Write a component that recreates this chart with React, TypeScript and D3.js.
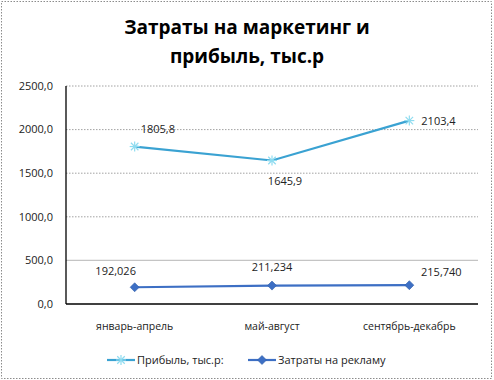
import React from "react";
import * as d3 from "d3";

const categories = ["январь-апрель", "май-август", "сентябрь-декабрь"];
const profit = [1805.8, 1645.9, 2103.4];
const profitLabels = ["1805,8", "1645,9", "2103,4"];
const ads = [192.026, 211.234, 215.74];
const adsLabels = ["192,026", "211,234", "215,740"];
const yTicks = [0, 500, 1000, 1500, 2000, 2500];
const titleLines = ["Затраты на маркетинг и", "прибыль, тыс.р"];
const legendNames = ["Прибыль, тыс.р:", "Затраты на рекламу"];

const W = 494, H = 380;
const FONT = "'Open Sans', 'Noto Sans', sans-serif";
const C_PROFIT = "#3aa2d2";
const C_PROFIT_MK = "#8fdcf0";
const C_ADS = "#3d6fc4";

function Star({ x, y, color }: { x: number; y: number; color: string }) {
  const r = 5;
  return (
    <g stroke={color} strokeWidth={1.2}>
      <line x1={x - r} y1={y} x2={x + r} y2={y} />
      <line x1={x} y1={y - r} x2={x} y2={y + r} />
      <line x1={x - r * 0.75} y1={y - r * 0.75} x2={x + r * 0.75} y2={y + r * 0.75} />
      <line x1={x - r * 0.75} y1={y + r * 0.75} x2={x + r * 0.75} y2={y - r * 0.75} />
    </g>
  );
}

function Diamond({ x, y, color }: { x: number; y: number; color: string }) {
  const r = 4.5;
  return (
    <path d={`M${x},${y - r}L${x + r},${y}L${x},${y + r}L${x - r},${y}Z`} fill={color} stroke="#2f5ea8" strokeWidth={0.6} />
  );
}

export default function App() {
  const x0 = 66, x1 = 478, yTop = 86, yBot = 304;
  const x = d3.scaleBand<string>().domain(categories).range([x0, x1]);
  const cx = (c: string) => (x(c) as number) + x.bandwidth() / 2;
  const y = d3.scaleLinear().domain([0, 2500]).range([yBot, yTop]);
  const line = d3.line<number>().x((_, i) => cx(categories[i])).y((d) => y(d));

  const profitOff = [[6, -17], [13, 21], [12, 1]];
  const adsOff = [[-19, -16], [0, -18], [32, -13]];

  return (
    <svg width={W} height={H} style={{ position: "absolute", left: 0, top: 0 }} fontFamily={FONT}>
      <rect x={0} y={0} width={W} height={H} fill="#fff" />
      <rect x={1.5} y={1.5} width={490} height={377} fill="none" stroke="#8c8c8c" strokeDasharray="1.5,1.5" />
      {titleLines.map((t, i) => (
        <text key={i} x={247} y={34 + i * 29} textAnchor="middle" fontSize={19} fontWeight="bold" fill="#000">
          {t}
        </text>
      ))}
      {yTicks.map((t) => (
        <g key={t}>
          {t > 0 && (
            <line x1={x0} x2={x1} y1={y(t)} y2={y(t)} stroke={t === 500 ? "#c4c4c4" : "#8a8a8a"} strokeWidth={t === 500 ? 1.3 : 0.8} strokeDasharray={t === 500 ? undefined : "1.5,1.5"} />
          )}
          <text x={53} y={y(t)} dy="0.35em" textAnchor="end" fontSize={11} fill="#222">
            {d3.format(".1f")(t).replace(".", ",")}
          </text>
        </g>
      ))}
      <line x1={x0} x2={x0} y1={yTop} y2={yBot} stroke="#000" strokeWidth={1.3} />
      <line x1={x0} x2={x1} y1={yBot} y2={yBot} stroke="#000" strokeWidth={1.3} />
      {categories.map((c) => (
        <text key={c} x={cx(c)} y={326} dy="0.35em" textAnchor="middle" fontSize={10.5} fill="#222">
          {c}
        </text>
      ))}
      <path d={line(profit) || ""} fill="none" stroke={C_PROFIT} strokeWidth={2.2} />
      <path d={line(ads) || ""} fill="none" stroke={C_ADS} strokeWidth={2.2} />
      {profit.map((v, i) => (
        <g key={i}>
          <Star x={cx(categories[i])} y={y(v)} color={C_PROFIT_MK} />
          <text x={cx(categories[i]) + profitOff[i][0]} y={y(v) + profitOff[i][1]} dy="0.35em" textAnchor={i === 1 ? "middle" : "start"} fontSize={11} fill="#222">
            {profitLabels[i]}
          </text>
        </g>
      ))}
      {ads.map((v, i) => (
        <g key={i}>
          <Diamond x={cx(categories[i])} y={y(v)} color={C_ADS} />
          <text x={cx(categories[i]) + adsOff[i][0]} y={y(v) + adsOff[i][1]} dy="0.35em" textAnchor="middle" fontSize={11} fill="#222">
            {adsLabels[i]}
          </text>
        </g>
      ))}
      <g>
        <line x1={107} x2={135} y1={360} y2={360} stroke={C_PROFIT} strokeWidth={2.2} />
        <Star x={121} y={360} color={C_PROFIT_MK} />
        <text x={137} y={360} dy="0.35em" fontSize={11} fill="#222">{legendNames[0]}</text>
        <line x1={248} x2={276} y1={360} y2={360} stroke={C_ADS} strokeWidth={2.2} />
        <Diamond x={262} y={360} color={C_ADS} />
        <text x={278} y={360} dy="0.35em" fontSize={11} fill="#222">{legendNames[1]}</text>
      </g>
    </svg>
  );
}
